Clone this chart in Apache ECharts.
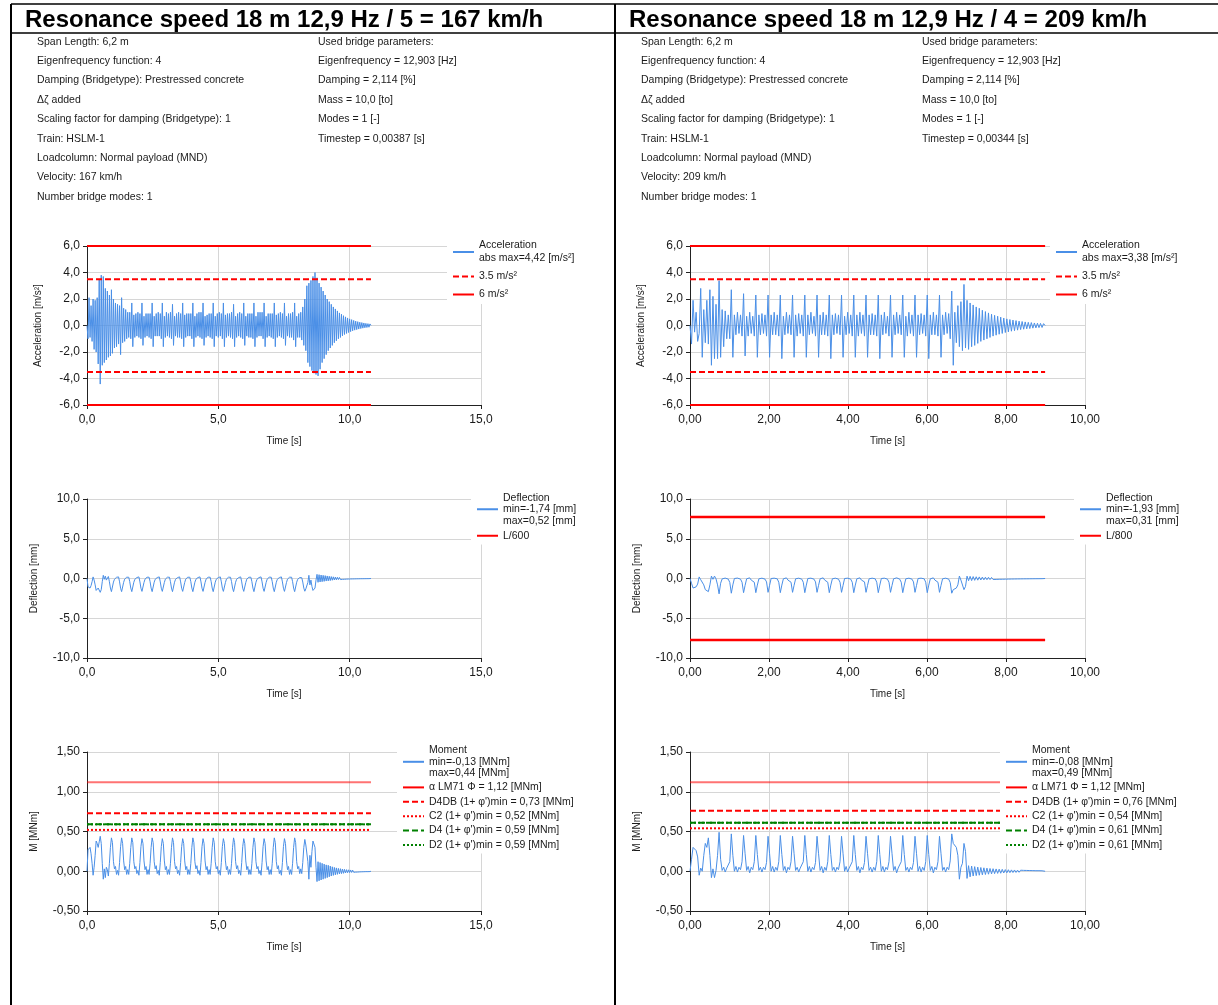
<!DOCTYPE html>
<html><head><meta charset="utf-8">
<script src="https://cdn.jsdelivr.net/npm/echarts@6/dist/echarts.min.js"></script>
<style>html,body{margin:0;padding:0;background:#fff}#c{width:1218px;height:1005px}</style>
</head><body><div id="c"></div>
<script>
// sample spacing of the typed series (half of the natural period 1/12.903 Hz)
const DT = 0.03875;

// ---------- left column : 167 km/h ----------
const accL = [
0.0,-1.0,2.1,-0.9,1.5,-1.2,2.0,-1.8,1.9,-2.0,
2.1,-2.9,3.5,-4.42,3.8,-3.0,3.7,-2.8,2.8,-2.6,
2.6,-2.4,2.3,-2.3,2.7,-2.1,2.0,-1.7,1.7,-1.6,
1.6,-1.4,1.5,-2.2,2.1,-1.3,1.3,-1.2,1.2,-1.0,
1.0,-0.9,1.0,-1.0,1.7,-1.6,0.8,-0.9,0.9,-0.8,
1.0,-0.9,0.9,-1.0,1.7,-1.5,0.7,-0.9,0.9,-0.8,
0.9,-0.9,0.9,-1.0,1.7,-1.6,0.7,-0.8,0.9,-0.8,
1.0,-0.8,0.9,-1.0,1.7,-1.6,0.7,-0.9,1.0,-0.8,
0.9,-0.9,1.0,-1.0,1.6,-1.5,0.7,-0.8,0.9,-0.9,
1.0,-0.9,0.9,-1.0,1.7,-1.6,0.8,-0.9,0.9,-0.8,
0.9,-0.8,0.9,-1.0,1.7,-1.6,0.7,-0.9,0.9,-0.8,
1.0,-0.9,1.0,-1.0,1.7,-1.5,0.7,-0.9,0.8,-0.8,
0.9,-0.9,0.9,-1.0,1.7,-1.6,0.7,-0.8,0.9,-0.9,
1.0,-0.8,0.9,-1.0,1.7,-1.6,0.8,-0.9,0.9,-0.8,
0.9,-0.9,1.0,-1.0,1.6,-1.6,0.7,-0.9,0.9,-0.8,
1.0,-0.9,0.9,-1.0,1.7,-1.5,0.7,-0.8,0.9,-0.9,
0.9,-0.9,0.9,-1.0,1.7,-1.6,0.7,-0.9,1.0,-0.8,
1.0,-0.8,1.0,-1.0,1.7,-1.6,0.7,-0.9,0.9,-0.8,
0.9,-0.9,0.9,-1.0,1.7,-1.6,0.8,-0.9,0.9,-0.8,
1.0,-0.9,0.9,-1.0,1.7,-1.5,0.7,-0.8,0.9,-0.9,
0.9,-0.9,1.0,-1.1,1.7,-1.6,0.7,-0.9,0.9,-0.9,
1.0,-1.1,1.4,-1.5,2.0,-1.9,3.0,-2.8,3.2,-3.1,
3.4,-3.4,3.7,-3.6,4.0,-3.7,3.6,-3.8,3.2,-3.3,
2.9,-2.8,2.6,-2.5,2.3,-2.2,2.0,-1.9,1.8,-1.7,
1.6,-1.5,1.4,-1.3,1.25,-1.15,1.1,-1.0,0.95,-0.9,
0.85,-0.78,0.74,-0.68,0.65,-0.6,0.57,-0.53,0.5,-0.46,
0.44,-0.4,0.38,-0.35,0.33,-0.31,0.29,-0.27,0.25,-0.23,
0.22,-0.2,0.19,-0.17,0.16,-0.15,0.14,-0.13,0.12,0.0
];
const deflL = [
0.0,-1.05,-1.0,-1.2,-0.9,-0.4,0.2,-0.2,-0.8,-1.5,
-1.4,-1.2,-1.45,-1.74,-1.4,-0.4,0.4,-0.1,0.3,-0.2,
-0.1,0.25,-0.4,-1.2,-1.65,-1.4,-0.45,-0.1,-0.25,0.15,
-0.05,0.2,-0.42,-1.22,-1.65,-1.4,-0.48,-0.08,-0.24,0.16,
-0.08,0.16,-0.4,-1.2,-1.65,-1.42,-0.47,-0.1,-0.24,0.12,
-0.04,0.2,-0.43,-1.22,-1.62,-1.38,-0.5,-0.08,-0.24,0.16,
-0.08,0.16,-0.4,-1.2,-1.65,-1.42,-0.47,-0.1,-0.28,0.12,
-0.04,0.2,-0.43,-1.22,-1.62,-1.38,-0.5,-0.08,-0.24,0.16,
-0.08,0.16,-0.4,-1.2,-1.65,-1.42,-0.47,-0.1,-0.24,0.12,
-0.04,0.2,-0.43,-1.22,-1.62,-1.38,-0.5,-0.08,-0.24,0.16,
-0.08,0.16,-0.4,-1.2,-1.65,-1.42,-0.47,-0.1,-0.28,0.12,
-0.04,0.2,-0.43,-1.22,-1.62,-1.38,-0.5,-0.08,-0.24,0.16,
-0.08,0.16,-0.4,-1.2,-1.65,-1.42,-0.47,-0.1,-0.24,0.12,
-0.04,0.2,-0.43,-1.22,-1.62,-1.38,-0.5,-0.08,-0.24,0.16,
-0.08,0.16,-0.4,-1.2,-1.65,-1.42,-0.47,-0.1,-0.28,0.12,
-0.04,0.2,-0.43,-1.22,-1.62,-1.38,-0.5,-0.08,-0.24,0.16,
-0.08,0.16,-0.4,-1.2,-1.65,-1.42,-0.47,-0.1,-0.24,0.12,
-0.04,0.2,-0.43,-1.22,-1.62,-1.38,-0.5,-0.08,-0.24,0.16,
-0.08,0.16,-0.4,-1.2,-1.65,-1.42,-0.47,-0.1,-0.28,0.12,
-0.04,0.2,-0.43,-1.22,-1.62,-1.38,-0.5,-0.08,-0.24,0.16,
-0.08,0.16,-0.4,-1.2,-1.65,-1.42,-0.47,-0.1,-0.24,0.12,
-0.1,0.1,-0.45,-1.2,-1.6,-1.3,-1.4,-0.5,0.4,-0.8,
-0.2,-1.0,-1.5,-1.6,-1.2,-0.2,0.52,-0.48,0.48,-0.44,
0.44,-0.4,0.4,-0.36,0.36,-0.32,0.32,-0.3,0.28,-0.26,
0.24,-0.22,0.21,-0.19,0.18,-0.17,0.16,-0.14,0.13,-0.13,
0.12,-0.11,0.1,-0.1,0.09,-0.08,0.08,-0.07,0.07,-0.06,
0.06,-0.055,0.05,-0.048,0.045,-0.04,0.04,-0.036,0.033,-0.03,
0.03,-0.028,0.026,-0.024,0.022,-0.02,0.02,-0.018,0.016,0.0
];
const momL = [
0.0,0.27,0.25,0.3,0.22,0.1,-0.05,0.05,0.2,0.38,
0.35,0.3,0.37,0.44,0.35,0.1,-0.1,0.03,-0.08,0.05,
0.02,-0.06,0.1,0.3,0.42,0.36,0.12,0.03,0.06,-0.04,
0.01,-0.05,0.11,0.31,0.42,0.35,0.13,0.02,0.06,-0.04,
0.02,-0.04,0.1,0.3,0.42,0.36,0.12,0.03,0.06,-0.03,
0.01,-0.05,0.11,0.31,0.41,0.35,0.13,0.02,0.06,-0.04,
0.02,-0.04,0.1,0.3,0.42,0.36,0.12,0.03,0.07,-0.03,
0.01,-0.05,0.11,0.31,0.41,0.35,0.13,0.02,0.06,-0.04,
0.02,-0.04,0.1,0.3,0.42,0.36,0.12,0.03,0.06,-0.03,
0.01,-0.05,0.11,0.31,0.41,0.35,0.13,0.02,0.06,-0.04,
0.02,-0.04,0.1,0.3,0.42,0.36,0.12,0.03,0.07,-0.03,
0.01,-0.05,0.11,0.31,0.41,0.35,0.13,0.02,0.06,-0.04,
0.02,-0.04,0.1,0.3,0.42,0.36,0.12,0.03,0.06,-0.03,
0.01,-0.05,0.11,0.31,0.41,0.35,0.13,0.02,0.06,-0.04,
0.02,-0.04,0.1,0.3,0.42,0.36,0.12,0.03,0.07,-0.03,
0.01,-0.05,0.11,0.31,0.41,0.35,0.13,0.02,0.06,-0.04,
0.02,-0.04,0.1,0.3,0.42,0.36,0.12,0.03,0.06,-0.03,
0.01,-0.05,0.11,0.31,0.41,0.35,0.13,0.02,0.06,-0.04,
0.02,-0.04,0.1,0.3,0.42,0.36,0.12,0.03,0.07,-0.03,
0.01,-0.05,0.11,0.31,0.41,0.35,0.13,0.02,0.06,-0.04,
0.02,-0.04,0.1,0.3,0.42,0.36,0.12,0.03,0.06,-0.03,
0.03,-0.03,0.11,0.3,0.4,0.33,0.35,0.12,-0.1,0.2,
0.05,0.25,0.38,0.4,0.3,0.05,-0.13,0.12,-0.12,0.11,
-0.11,0.1,-0.1,0.09,-0.09,0.08,-0.08,0.075,-0.07,0.065,
-0.06,0.056,-0.052,0.048,-0.045,0.042,-0.039,0.036,-0.034,0.032,
-0.03,0.028,-0.026,0.024,-0.022,0.02,-0.019,0.018,-0.017,0.016,
-0.015,0.014,-0.013,0.012,-0.011,0.01,-0.01,0.009,-0.008,0.008,
-0.007,0.007,-0.006,0.006,-0.005,0.005,-0.005,0.004,-0.004,0.0
];

// ---------- right column : 209 km/h ----------
const accR = [
0.0,-1.4,1.9,-0.5,1.0,-1.2,-0.6,2.8,-2.4,1.2,-1.3,1.9,-1.4,2.7,-3.0,2.2,-2.5,1.6,-2.5,3.38,-2.4,1.2,-1.6,1.1,-1.0,0.8,-1.0,
2.7,-2.4,0.8,-0.7,1.0,-0.6,0.8,-0.8,
2.4,-2.3,0.7,-0.8,1.0,-0.6,0.7,-0.8,
2.3,-2.4,0.8,-0.7,0.9,-0.6,0.8,-0.8,
2.3,-2.4,0.8,-0.7,1.0,-0.7,0.8,-0.8,
2.3,-2.5,0.7,-0.7,1.0,-0.6,0.8,-0.7,
2.3,-2.4,0.8,-0.8,0.9,-0.6,0.8,-0.8,
2.3,-2.4,0.8,-0.7,1.0,-0.6,0.7,-0.8,
2.3,-2.4,0.8,-0.7,1.0,-0.7,0.8,-0.8,
2.3,-2.5,0.8,-0.7,0.9,-0.6,0.8,-0.7,
2.3,-2.4,0.7,-0.7,1.0,-0.6,0.8,-0.8,
2.3,-2.4,0.8,-0.8,1.0,-0.6,0.8,-0.8,
2.3,-2.4,0.8,-0.7,0.9,-0.7,0.8,-0.8,
2.3,-2.5,0.8,-0.7,1.0,-0.6,0.7,-0.8,
2.3,-2.4,0.8,-0.7,1.0,-0.6,0.8,-0.7,
2.3,-2.4,0.7,-0.8,1.0,-0.6,0.8,-0.8,
2.3,-2.4,0.8,-0.7,0.9,-0.6,0.8,-0.8,
2.3,-2.5,0.8,-0.7,1.0,-0.7,0.8,-0.8,
2.3,-2.4,0.8,-0.7,1.0,-0.6,0.9,-1.0,
2.6,-3.0,1.0,-1.3,1.5,-1.6,1.8,-1.9,
3.1,-1.7,1.9,-1.8,1.7,-1.6,1.55,-1.5,
1.4,-1.35,1.3,-1.2,1.15,-1.1,1.05,-1.0,0.95,-0.9,
0.85,-0.8,0.77,-0.73,0.7,-0.66,0.63,-0.6,0.56,-0.53,
0.5,-0.48,0.45,-0.43,0.41,-0.39,0.37,-0.35,0.33,-0.31,
0.3,-0.28,0.27,-0.25,0.24,-0.23,0.22,-0.2,0.19,-0.18,
0.17,-0.16,0.16,-0.15,0.14,0.0
];
const deflR = [
0.0,-0.6,-1.2,-1.15,-1.05,-0.7,0.2,-0.15,0.0,-0.8,-1.4,-1.2,-1.65,-0.8,0.3,-0.1,0.3,-0.05,-0.8,-1.93,-0.6,-0.05,-0.2,0.05,-0.15,-0.08,-0.5,
-1.85,-0.8,0.0,-0.22,0.05,-0.2,-0.08,-0.47,
-1.78,-0.86,-0.04,-0.22,0.08,-0.2,-0.08,-0.47,
-1.78,-0.83,-0.04,-0.2,0.04,-0.2,-0.08,-0.43,
-1.74,-0.86,0.0,-0.22,0.04,-0.2,-0.04,-0.47,
-1.78,-0.83,-0.04,-0.22,0.08,-0.2,-0.08,-0.47,
-1.74,-0.86,-0.04,-0.2,0.04,-0.16,-0.08,-0.47,
-1.78,-0.83,0.0,-0.22,0.04,-0.2,-0.08,-0.43,
-1.74,-0.86,-0.04,-0.22,0.08,-0.2,-0.04,-0.47,
-1.78,-0.83,-0.04,-0.2,0.04,-0.2,-0.08,-0.47,
-1.74,-0.86,0.0,-0.22,0.04,-0.16,-0.08,-0.47,
-1.78,-0.83,-0.04,-0.22,0.08,-0.2,-0.08,-0.43,
-1.74,-0.86,-0.04,-0.2,0.04,-0.2,-0.04,-0.47,
-1.78,-0.83,0.0,-0.22,0.04,-0.2,-0.08,-0.47,
-1.74,-0.86,-0.04,-0.22,0.08,-0.16,-0.08,-0.47,
-1.78,-0.83,-0.04,-0.2,0.04,-0.2,-0.08,-0.43,
-1.74,-0.86,0.0,-0.22,0.04,-0.2,-0.04,-0.47,
-1.78,-0.83,-0.04,-0.22,0.08,-0.2,-0.08,-0.47,
-1.74,-0.86,-0.04,-0.2,0.04,-0.2,-0.08,-0.5,
-1.85,-1.4,-1.3,-1.2,-0.8,0.31,-0.2,-0.4,
-1.4,-1.0,0.3,-0.28,0.27,-0.26,0.24,-0.23,
0.22,-0.21,0.2,-0.19,0.18,-0.17,0.16,-0.155,0.15,-0.14,
0.13,-0.125,0.12,-0.115,0.11,-0.1,0.1,-0.095,0.09,-0.085,
0.08,-0.076,0.072,-0.068,0.065,-0.062,0.058,-0.055,0.052,-0.05,
0.047,-0.045,0.043,-0.04,0.038,-0.036,0.034,-0.032,0.03,-0.029,
0.027,-0.026,0.025,-0.023,0.022,0.0
];
const momR = [
0.0,0.15,0.3,0.29,0.26,0.18,-0.05,0.04,0.0,0.2,0.35,0.3,0.42,0.2,-0.08,0.03,-0.08,0.01,0.2,0.49,0.15,0.01,0.05,-0.01,0.04,0.02,0.12,
0.47,0.2,0.0,0.06,-0.01,0.05,0.02,0.12,
0.45,0.22,0.01,0.06,-0.02,0.05,0.02,0.12,
0.45,0.21,0.01,0.05,-0.01,0.05,0.02,0.11,
0.44,0.22,0.0,0.06,-0.01,0.05,0.01,0.12,
0.45,0.21,0.01,0.06,-0.02,0.05,0.02,0.12,
0.44,0.22,0.01,0.05,-0.01,0.04,0.02,0.12,
0.45,0.21,0.0,0.06,-0.01,0.05,0.02,0.11,
0.44,0.22,0.01,0.06,-0.02,0.05,0.01,0.12,
0.45,0.21,0.01,0.05,-0.01,0.05,0.02,0.12,
0.44,0.22,0.0,0.06,-0.01,0.04,0.02,0.12,
0.45,0.21,0.01,0.06,-0.02,0.05,0.02,0.11,
0.44,0.22,0.01,0.05,-0.01,0.05,0.01,0.12,
0.45,0.21,0.0,0.06,-0.01,0.05,0.02,0.12,
0.44,0.22,0.01,0.06,-0.02,0.04,0.02,0.12,
0.45,0.21,0.01,0.05,-0.01,0.05,0.02,0.11,
0.44,0.22,0.0,0.06,-0.01,0.05,0.01,0.12,
0.45,0.21,0.01,0.06,-0.02,0.05,0.02,0.12,
0.44,0.22,0.01,0.05,-0.01,0.05,0.02,0.13,
0.47,0.35,0.33,0.3,0.2,-0.1,0.05,0.1,
0.35,0.25,-0.09,0.07,-0.07,0.065,-0.06,0.058,
-0.055,0.052,-0.05,0.047,-0.045,0.043,-0.041,0.039,-0.037,0.035,
-0.033,0.032,-0.03,0.029,-0.027,0.026,-0.025,0.024,-0.022,0.021,
-0.02,0.019,-0.018,0.017,-0.016,0.016,-0.015,0.014,-0.013,0.013,
-0.012,0.011,-0.011,0.01,-0.01,0.009,-0.009,0.008,-0.008,0.007,
-0.007,0.007,-0.006,0.006,-0.005,0.0
];

// limit lines
const accLimits = [3.5, 6];
const deflLimitL = 10.33;   // L/600, span 6,2 m
const deflLimitR = 7.75;    // L/800
const momLinesL = [1.12, 0.73, 0.52, 0.59, 0.59];
const momLinesR = [1.12, 0.76, 0.54, 0.61, 0.61];

// tick settings
const xMaxL = 15, xIntL = 5, xMaxR = 10, xIntR = 2;

// texts
const titleL = 'Resonance speed 18 m 12,9 Hz / 5 = 167 km/h';
const titleR = 'Resonance speed 18 m 12,9 Hz / 4 = 209 km/h';
const infoL1 = ['Span Length: 6,2 m','Eigenfrequency function: 4','Damping (Bridgetype): Prestressed concrete','Δζ added','Scaling factor for damping (Bridgetype): 1','Train: HSLM-1','Loadcolumn: Normal payload (MND)','Velocity: 167 km/h','Number bridge modes: 1'];
const infoL2 = ['Used bridge parameters:','Eigenfrequency = 12,903 [Hz]','Damping = 2,114 [%]','Mass = 10,0 [to]','Modes = 1 [-]','Timestep = 0,00387 [s]'];
const infoR1 = ['Span Length: 6,2 m','Eigenfrequency function: 4','Damping (Bridgetype): Prestressed concrete','Δζ added','Scaling factor for damping (Bridgetype): 1','Train: HSLM-1','Loadcolumn: Normal payload (MND)','Velocity: 209 km/h','Number bridge modes: 1'];
const infoR2 = ['Used bridge parameters:','Eigenfrequency = 12,903 [Hz]','Damping = 2,114 [%]','Mass = 10,0 [to]','Modes = 1 [-]','Timestep = 0,00344 [s]'];

const nameAccL = 'Acceleration\nabs max=4,42 [m/s²]';
const nameAccR = 'Acceleration\nabs max=3,38 [m/s²]';
const nameDefL = 'Deflection\nmin=-1,74 [mm]\nmax=0,52 [mm]';
const nameDefR = 'Deflection\nmin=-1,93 [mm]\nmax=0,31 [mm]';
const nameMomL = 'Moment\nmin=-0,13 [MNm]\nmax=0,44 [MNm]';
const nameMomR = 'Moment\nmin=-0,08 [MNm]\nmax=0,49 [MNm]';
const momNamesL = ['α LM71 Φ = 1,12 [MNm]', "D4DB (1+ φ')min = 0,73 [MNm]", "C2 (1+ φ')min = 0,52 [MNm]", "D4 (1+ φ')min = 0,59 [MNm]", "D2 (1+ φ')min = 0,59 [MNm]"];
const momNamesR = ['α LM71 Φ = 1,12 [MNm]', "D4DB (1+ φ')min = 0,76 [MNm]", "C2 (1+ φ')min = 0,54 [MNm]", "D4 (1+ φ')min = 0,61 [MNm]", "D2 (1+ φ')min = 0,61 [MNm]"];

// ---------- build ----------
const FONT = '"Liberation Sans", Arial, sans-serif';
const BLUE = '#4a8fe7';
const TXT = '#1a1a1a';
const DASH = [6, 3], DOT = [2, 2];
const comma = d => v => v.toFixed(d).replace('.', ',');
const ts = arr => arr.map((v, i) => [i * DT, v]);
const tEnd = arr => (arr.length - 1) * DT;
const hl = (v, te) => [[0, v], [te, v]];

const grids = [
  {left: 87, top: 246, width: 394, height: 159},
  {left: 690, top: 246, width: 395, height: 159},
  {left: 87, top: 499, width: 394, height: 159},
  {left: 690, top: 499, width: 395, height: 159},
  {left: 87, top: 752, width: 394, height: 159},
  {left: 690, top: 752, width: 395, height: 159}
];
const yCfg = [
  {min: -6, max: 6, interval: 2, d: 1, name: 'Acceleration [m/s²]', gap: 44},
  {min: -6, max: 6, interval: 2, d: 1, name: 'Acceleration [m/s²]', gap: 44},
  {min: -10, max: 10, interval: 5, d: 1, name: 'Deflection [mm]', gap: 48},
  {min: -10, max: 10, interval: 5, d: 1, name: 'Deflection [mm]', gap: 48},
  {min: -0.5, max: 1.5, interval: 0.5, d: 2, name: 'M [MNm]', gap: 48},
  {min: -0.5, max: 1.5, interval: 0.5, d: 2, name: 'M [MNm]', gap: 48}
];

const xAxes = grids.map((g, i) => {
  const right = i % 2 === 1;
  return {
    gridIndex: i, type: 'value', min: 0, max: right ? xMaxR : xMaxL, interval: right ? xIntR : xIntL,
    name: 'Time [s]', nameLocation: 'middle', nameGap: 31,
    nameTextStyle: {fontSize: 10, color: TXT, fontFamily: FONT},
    axisLine: {show: true, onZero: false, lineStyle: {color: '#222', width: 1}},
    axisTick: {show: true, length: 4, lineStyle: {color: '#222'}},
    axisLabel: {fontSize: 12, color: TXT, fontFamily: FONT, margin: 9, formatter: comma(right ? 2 : 1)},
    splitLine: {show: true, lineStyle: {color: '#d6d6d6', width: 1}}
  };
});
const yAxes = yCfg.map((c, i) => ({
  gridIndex: i, type: 'value', min: c.min, max: c.max, interval: c.interval,
  name: c.name, nameLocation: 'middle', nameRotate: 90, nameGap: c.gap,
  nameTextStyle: {fontSize: 10, color: TXT, fontFamily: FONT},
  axisLine: {show: true, onZero: false, lineStyle: {color: '#222', width: 1}},
  axisTick: {show: true, length: 4, lineStyle: {color: '#222'}},
  axisLabel: {fontSize: 12, color: TXT, fontFamily: FONT, margin: 7, formatter: comma(c.d)},
  splitLine: {show: true, lineStyle: {color: '#d6d6d6', width: 1}}
}));

const series = [];
function sig(g, name, arr) {
  series.push({type: 'line', name, xAxisIndex: g, yAxisIndex: g, data: ts(arr), symbol: 'none',
    color: BLUE, lineStyle: {color: BLUE, width: 1}, animation: false, silent: true, z: 2});
}
function lim(g, name, v, te, color, type, width, opacity) {
  series.push({type: 'line', name, xAxisIndex: g, yAxisIndex: g, data: hl(v, te), symbol: 'none',
    color, lineStyle: {color, width: width || 2, type: type || 'solid', opacity: opacity == null ? 1 : opacity},
    animation: false, silent: true, z: 2});
}
// acceleration
[[0, accL, nameAccL], [1, accR, nameAccR]].forEach(([g, arr, nm]) => {
  const te = tEnd(arr);
  sig(g, nm, arr);
  lim(g, '3.5 m/s²', accLimits[0], te, '#ff0000', DASH);
  lim(g, '3.5 m/s²', -accLimits[0], te, '#ff0000', DASH);
  lim(g, '6 m/s²', accLimits[1], te, '#ff0000');
  lim(g, '6 m/s²', -accLimits[1], te, '#ff0000');
});
// deflection
sig(2, nameDefL, deflL);
lim(2, 'L/600', deflLimitL, tEnd(deflL), '#ff0000');
lim(2, 'L/600', -deflLimitL, tEnd(deflL), '#ff0000');
sig(3, nameDefR, deflR);
lim(3, 'L/800', deflLimitR, tEnd(deflR), '#ff0000', 'solid', 2.5);
lim(3, 'L/800', -deflLimitR, tEnd(deflR), '#ff0000', 'solid', 2.5);
// moment
[[4, momL, nameMomL, momLinesL, momNamesL], [5, momR, nameMomR, momLinesR, momNamesR]].forEach(([g, arr, nm, lv, ln]) => {
  const te = tEnd(arr);
  sig(g, nm, arr);
  lim(g, ln[0], lv[0], te, '#ff0000', 'solid', 2, 0.55);
  lim(g, ln[1], lv[1], te, '#ff0000', DASH);
  lim(g, ln[2], lv[2], te, '#ff0000', DOT);
  lim(g, ln[3], lv[3], te, '#008000', DASH);
  lim(g, ln[4], lv[4], te, '#008000', DOT);
});

function legend(left, top, data, lh, gap) {
  return {
    orient: 'vertical', left, top, padding: [3, 6, 3, 5], backgroundColor: '#fff',
    itemWidth: 21, itemHeight: 11, itemGap: gap, selectedMode: false,
    itemStyle: {color: 'rgba(0,0,0,0)', borderColor: 'rgba(0,0,0,0)', borderWidth: 0},
    lineStyle: {width: 2},
    textStyle: {fontSize: 10.5, lineHeight: lh, color: TXT, fontFamily: FONT},
    data: data.map(n => (typeof n === 'string' ? {name: n} : n)),
    z: 6
  };
}
const legends = [
  legend(447, 236, [nameAccL, '3.5 m/s²', '6 m/s²'], 13, 5),
  legend(1050, 236, [nameAccR, '3.5 m/s²', '6 m/s²'], 13, 5),
  legend(471, 489, [nameDefL, 'L/600'], 11.5, 3.5),
  legend(1074, 489, [nameDefR, 'L/800'], 11.5, 3.5),
  legend(397, 742, [nameMomL, {name: momNamesL[0], lineStyle: {opacity: 1}}].concat(momNamesL.slice(1)), 11.2, 3.2),
  legend(1000, 742, [nameMomR, {name: momNamesR[0], lineStyle: {opacity: 1}}].concat(momNamesR.slice(1)), 11.2, 3.2)
];

const graphics = [
  {type: 'line', shape: {x1: 11, y1: 4, x2: 1218, y2: 4}, style: {stroke: '#000', lineWidth: 1.5}},
  {type: 'line', shape: {x1: 11, y1: 33, x2: 1218, y2: 33}, style: {stroke: '#000', lineWidth: 1.5}},
  {type: 'line', shape: {x1: 11, y1: 4, x2: 11, y2: 1005}, style: {stroke: '#000', lineWidth: 2}},
  {type: 'line', shape: {x1: 615, y1: 4, x2: 615, y2: 1005}, style: {stroke: '#000', lineWidth: 2}},
  {type: 'text', left: 25, top: 8, style: {text: titleL, font: 'bold 24px ' + FONT, fill: '#000'}},
  {type: 'text', left: 629, top: 8, style: {text: titleR, font: 'bold 24px ' + FONT, fill: '#000'}},
  {type: 'text', left: 37, top: 32, style: {text: infoL1.join('\n'), font: '10.5px ' + FONT, lineHeight: 19.4, fill: TXT}},
  {type: 'text', left: 318, top: 32, style: {text: infoL2.join('\n'), font: '10.5px ' + FONT, lineHeight: 19.4, fill: TXT}},
  {type: 'text', left: 641, top: 32, style: {text: infoR1.join('\n'), font: '10.5px ' + FONT, lineHeight: 19.4, fill: TXT}},
  {type: 'text', left: 922, top: 32, style: {text: infoR2.join('\n'), font: '10.5px ' + FONT, lineHeight: 19.4, fill: TXT}}
];

const chart = echarts.init(document.getElementById('c'), null, {renderer: 'canvas'});
chart.setOption({
  backgroundColor: '#fff',
  animation: false,
  grid: grids,
  xAxis: xAxes,
  yAxis: yAxes,
  legend: legends,
  series,
  graphic: graphics
});
</script></body></html>
